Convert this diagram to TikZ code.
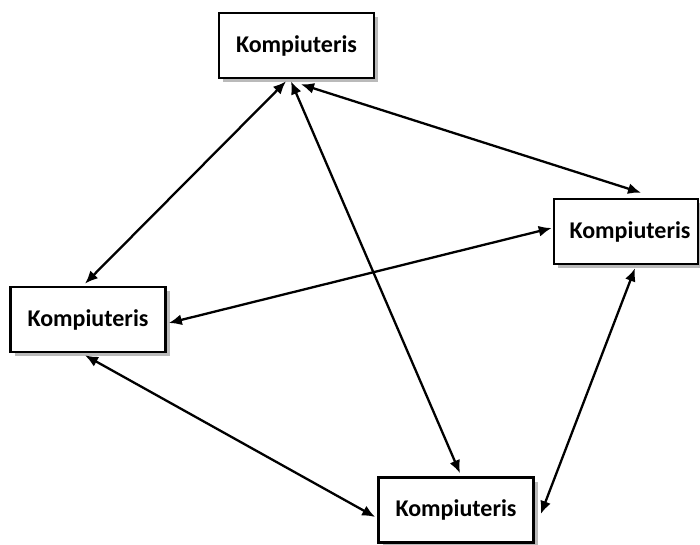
\documentclass[tikz,border=0pt]{standalone}
\usepackage{fontspec}
\setmainfont{Carlito}
\usetikzlibrary{arrows.meta,calc,shadows}
\tikzset{
  pc/.style={draw=black, line width=2.6pt, fill=white, minimum width=155pt, minimum height=65pt,
    inner sep=0pt, font=\fontsize{24}{28}\selectfont\bfseries,
    drop shadow={shadow xshift=4pt, shadow yshift=-4pt, fill=black!45, opacity=0.6}},
  link/.style={line width=2.3pt, {Latex[length=13pt,width=11pt]}-{Latex[length=13pt,width=11pt]}}
}
\begin{document}
\begin{tikzpicture}[x=1pt,y=-1pt]
\useasboundingbox (0,0) rectangle (700,545);
\node[pc] (T) at (296.5,45.5) {Kompiuteris};
\node[pc, minimum width=144pt] (R) at (626,231.5) {\hspace*{8pt}Kompiuteris};
\node[pc] (L) at (88,319.5) {Kompiuteris};
\node[pc] (B) at (456,510) {Kompiuteris};
\draw[link] ($(T.south)+(-10.5,2)$) -- ($(L.north)+(-3,-2)$);
\draw[link] ($(T.south)+(-5.5,2)$) -- ($(B.north)+(4,-3)$);
\draw[link] ($(T.south)+(4.5,5)$) -- ($(R.north)+(15,-5)$);
\draw[link] ($(R.west)+(-1,-3.5)$) -- ($(L.east)+(2,3.5)$);
\draw[link] ($(L.south)+(-3,2)$) -- ($(B.west)+(-2,7)$);
\draw[link] ($(R.south)+(9,3)$) -- ($(B.east)+(6,4)$);
\end{tikzpicture}
\end{document}
